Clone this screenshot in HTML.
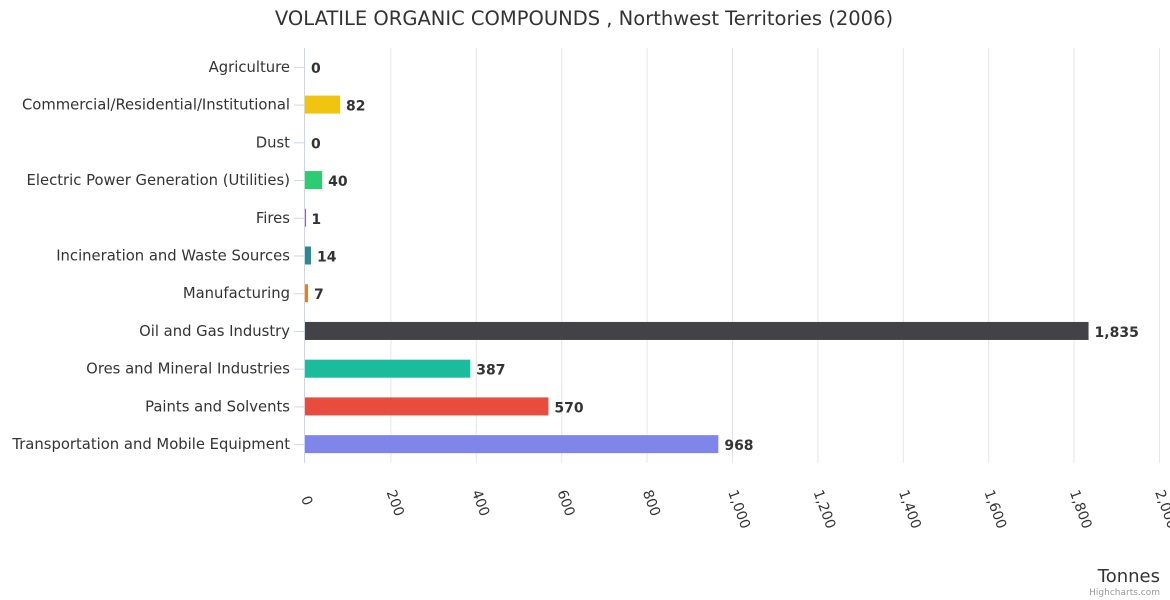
<!DOCTYPE html>
<html><head><meta charset="utf-8"><style>
body{margin:0;background:#fff;}
svg{display:block;font-family:"DejaVu Sans","Liberation Sans",sans-serif;}
</style></head><body>
<svg id="chart" width="1170" height="600">
<text x="584" y="25" text-anchor="middle" font-size="19.5" fill="#333">VOLATILE ORGANIC COMPOUNDS , Northwest Territories (2006)</text>
<g id="grid"></g><g id="bars"></g><g id="labels"></g>
<text x="1160" y="582" text-anchor="end" font-size="18" fill="#333">Tonnes</text>
<text x="1160" y="595" text-anchor="end" font-size="9" fill="#999">Highcharts.com</text>
</svg>
<script>
const categories=["Agriculture","Commercial/Residential/Institutional","Dust","Electric Power Generation (Utilities)","Fires","Incineration and Waste Sources","Manufacturing","Oil and Gas Industry","Ores and Mineral Industries","Paints and Solvents","Transportation and Mobile Equipment"];
const values=[0,82,0,40,1,14,7,1835,387,570,968];
const colors=["#7cb5ec","#f1c40f","#2c3e50","#2ecc71","#9b59b6","#2a8a8f","#e67e22","#424247","#1abc9c","#e74c3c","#8085e9"];
const ticks=[0,200,400,600,800,1000,1200,1400,1600,1800,2000];
const NS="http://www.w3.org/2000/svg";
const x0=305,x1=1159,plotTop=48,plotBot=463,maxV=2000;
const xs=v=>x0+(x1-x0)*v/maxV;
const step=(plotBot-plotTop)/categories.length;
const yc=i=>plotTop+step*(i+0.5);
function mk(t,a,p){const e=document.createElementNS(NS,t);for(const k in a)e.setAttribute(k,a[k]);p.appendChild(e);return e;}
const g=document.getElementById('grid'),b=document.getElementById('bars'),l=document.getElementById('labels');
ticks.forEach(t=>{
 if(t>0){const ln=mk('line',{x1:xs(t)+0.5,x2:xs(t)+0.5,y1:plotTop,y2:plotBot,stroke:'#e6e6e6'},g);
 
 }
 const tx=mk('text',{transform:`translate(${xs(t)-4},${t==0?498:492}) rotate(70)`,'font-size':14,fill:'#333'},l);
 tx.textContent=t.toLocaleString('en-US');
 
 
});
const ax=mk('line',{x1:304.5,x2:304.5,y1:plotTop,y2:plotBot,stroke:'#ccd6eb'},g);


categories.forEach((c,i)=>{
 const y=yc(i);
 const tk=mk('line',{x1:294,x2:304,y1:y+0.5,y2:y+0.5,stroke:'#ccd6eb'},g);
 
 
 const lab=mk('text',{x:290,y:y+5,'text-anchor':'end','font-size':14.8,fill:'#333'},l);
 lab.textContent=c;
 
 
 const w=xs(values[i])-x0;
 const r=mk('rect',{x:x0,y:y-9,width:Math.max(w,values[i]>0?1:0),height:18,fill:colors[i]},b);
 
 
 const v=mk('text',{x:x0+w+6,y:y+6,'font-size':14,'font-weight':'bold',fill:'#333'},l);
 v.textContent=values[i].toLocaleString('en-US');
 
 
});
</script>
</body></html>
